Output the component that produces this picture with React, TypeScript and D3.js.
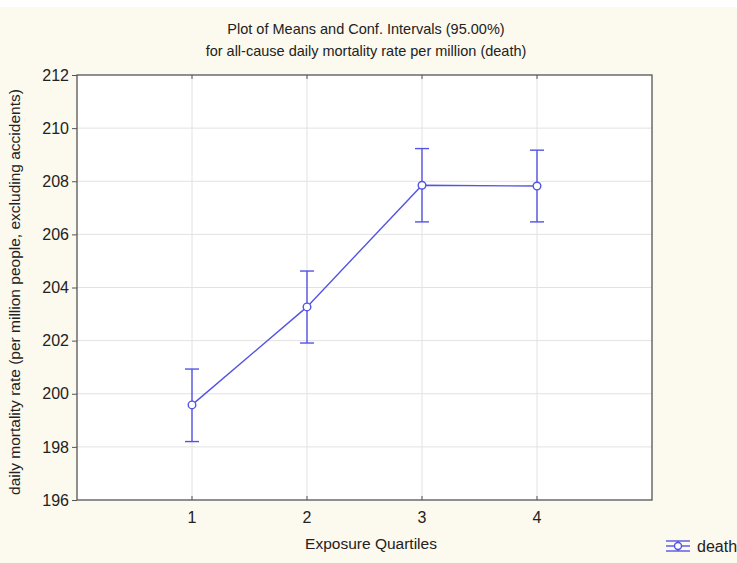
import React, { useRef, useEffect } from "react";
import * as d3 from "d3";

const quartiles = [1, 2, 3, 4];
const means = [199.58, 203.27, 207.85, 207.82];
const upper = [200.93, 204.62, 209.23, 209.17];
const lower = [198.2, 201.91, 206.47, 206.47];
const yTicks = [196, 198, 200, 202, 204, 206, 208, 210, 212];

const W = 737;
const H = 563;
const BLUE = "#5353e6";

const App = () => {
  const svgRef = useRef<SVGSVGElement>(null);

  useEffect(() => {
    const svg = d3.select(svgRef.current);
    svg.selectAll("*").remove();

    const margin = { top: 75, right: 85, bottom: 63, left: 77 };
    const innerWidth = W - margin.left - margin.right;
    const innerHeight = H - margin.top - margin.bottom;
    const font = "'Liberation Sans', Arial, sans-serif";

    // background
    svg.append("rect").attr("width", W).attr("height", H).attr("fill", "#fcf9ee");
    svg.append("rect").attr("width", W).attr("height", 7).attr("fill", "#ffffff");

    const x = d3.scaleLinear().domain([0, 5]).range([0, innerWidth]);
    const y = d3.scaleLinear().domain([196, 212]).range([innerHeight, 0]);

    const g = svg
      .append("g")
      .attr("transform", `translate(${margin.left}, ${margin.top})`);

    g.append("rect")
      .attr("width", innerWidth)
      .attr("height", innerHeight)
      .attr("fill", "#ffffff");

    // grid lines
    g.selectAll(".hgrid")
      .data(yTicks.slice(1, -1))
      .join("line")
      .attr("x1", 0)
      .attr("x2", innerWidth)
      .attr("y1", (d) => y(d))
      .attr("y2", (d) => y(d))
      .attr("stroke", "#e2e2e2")
      .attr("stroke-width", 1);

    g.selectAll(".vgrid")
      .data(quartiles)
      .join("line")
      .attr("x1", (d) => x(d))
      .attr("x2", (d) => x(d))
      .attr("y1", 0)
      .attr("y2", innerHeight)
      .attr("stroke", "#e2e2e2")
      .attr("stroke-width", 1);

    // small inner ticks on top / bottom
    g.selectAll(".xtick")
      .data(quartiles)
      .join("line")
      .attr("x1", (d) => x(d))
      .attr("x2", (d) => x(d))
      .attr("y1", innerHeight)
      .attr("y2", innerHeight - 4)
      .attr("stroke", "#555");
    g.selectAll(".xtick2")
      .data(quartiles)
      .join("line")
      .attr("x1", (d) => x(d))
      .attr("x2", (d) => x(d))
      .attr("y1", 0)
      .attr("y2", 4)
      .attr("stroke", "#555");

    // frame
    g.append("rect")
      .attr("width", innerWidth)
      .attr("height", innerHeight)
      .attr("fill", "none")
      .attr("stroke", "#555")
      .attr("stroke-width", 1.3);

    // y axis
    const yAxis = g
      .append("g")
      .call(d3.axisLeft(y).tickValues(yTicks).tickSize(5).tickPadding(3).tickFormat(d3.format("d")));
    yAxis.select(".domain").remove();
    yAxis.selectAll("line").attr("stroke", "#555");
    yAxis
      .selectAll("text")
      .attr("font-family", font)
      .attr("font-size", 16)
      .attr("fill", "#222");

    // x axis labels
    g.selectAll(".xlabel")
      .data(quartiles)
      .join("text")
      .attr("x", (d) => x(d))
      .attr("y", innerHeight + 23)
      .attr("text-anchor", "middle")
      .attr("font-family", font)
      .attr("font-size", 16)
      .attr("fill", "#222")
      .text((d) => d);

    // line
    const line = d3
      .line<number>()
      .x((_, i) => x(quartiles[i]))
      .y((d) => y(d));

    g.append("path")
      .datum(means)
      .attr("d", line)
      .attr("fill", "none")
      .attr("stroke", BLUE)
      .attr("stroke-width", 1.4);

    // error bars
    const bars = g.selectAll(".err").data(quartiles).join("g");
    bars
      .append("line")
      .attr("x1", (d) => x(d))
      .attr("x2", (d) => x(d))
      .attr("y1", (_, i) => y(upper[i]))
      .attr("y2", (_, i) => y(lower[i]))
      .attr("stroke", BLUE)
      .attr("stroke-width", 1.4);
    bars
      .append("line")
      .attr("x1", (d) => x(d) - 7)
      .attr("x2", (d) => x(d) + 7)
      .attr("y1", (_, i) => y(upper[i]))
      .attr("y2", (_, i) => y(upper[i]))
      .attr("stroke", BLUE)
      .attr("stroke-width", 1.4);
    bars
      .append("line")
      .attr("x1", (d) => x(d) - 7)
      .attr("x2", (d) => x(d) + 7)
      .attr("y1", (_, i) => y(lower[i]))
      .attr("y2", (_, i) => y(lower[i]))
      .attr("stroke", BLUE)
      .attr("stroke-width", 1.4);
    bars
      .append("circle")
      .attr("cx", (d) => x(d))
      .attr("cy", (_, i) => y(means[i]))
      .attr("r", 3.8)
      .attr("fill", "#ffffff")
      .attr("stroke", BLUE)
      .attr("stroke-width", 1.4);

    // titles
    svg
      .append("text")
      .attr("x", 366)
      .attr("y", 34)
      .attr("text-anchor", "middle")
      .attr("font-family", font)
      .attr("font-size", 14.5)
      .attr("fill", "#222")
      .text("Plot of Means and Conf. Intervals (95.00%)");
    svg
      .append("text")
      .attr("x", 366)
      .attr("y", 56)
      .attr("text-anchor", "middle")
      .attr("font-family", font)
      .attr("font-size", 14.5)
      .attr("fill", "#222")
      .text("for all-cause daily mortality rate per million (death)");

    svg
      .append("text")
      .attr("x", 371)
      .attr("y", 549)
      .attr("text-anchor", "middle")
      .attr("font-family", font)
      .attr("font-size", 15.5)
      .attr("fill", "#222")
      .text("Exposure Quartiles");

    svg
      .append("text")
      .attr("transform", `translate(20, 292) rotate(-90)`)
      .attr("text-anchor", "middle")
      .attr("font-family", font)
      .attr("font-size", 15.5)
      .attr("fill", "#222")
      .text("daily mortality rate (per million people, excluding accidents)");

    // legend
    const lg = svg.append("g").attr("transform", "translate(678, 546)");
    [-5, 0, 5].forEach((dy) => {
      lg.append("line")
        .attr("x1", -12)
        .attr("x2", 12)
        .attr("y1", dy)
        .attr("y2", dy)
        .attr("stroke", BLUE)
        .attr("stroke-width", 1.4);
    });
    lg.append("line")
      .attr("x1", 0)
      .attr("x2", 0)
      .attr("y1", -5)
      .attr("y2", 5)
      .attr("stroke", BLUE)
      .attr("stroke-width", 1.4);
    lg.append("circle")
      .attr("r", 3.5)
      .attr("fill", "#ffffff")
      .attr("stroke", BLUE)
      .attr("stroke-width", 1.4);
    lg.append("text")
      .attr("x", 19)
      .attr("y", 6)
      .attr("font-family", font)
      .attr("font-size", 16)
      .attr("fill", "#222")
      .text("death");
  }, []);

  return (
    <svg
      ref={svgRef}
      width={W}
      height={H}
      style={{ position: "fixed", top: 0, left: 0, display: "block" }}
    />
  );
};

export default App;
